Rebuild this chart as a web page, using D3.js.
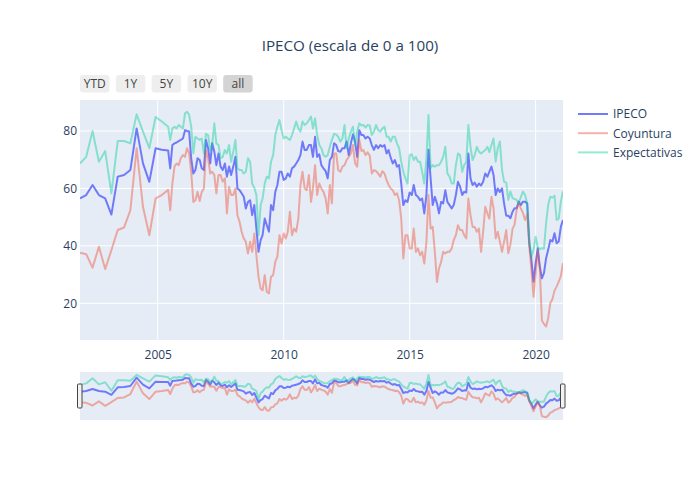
<!DOCTYPE html>
<html><head><meta charset="utf-8">
<script src="https://cdn.jsdelivr.net/npm/d3@7"></script>
<style>body{margin:0;background:#fff}text{font-family:"Open Sans",sans-serif}</style>
</head><body><svg id="c" width="700" height="500"></svg>
<script>
const quarterDates = ["2001-12","2002-03","2002-06","2002-09","2002-12","2003-03","2003-06","2003-09","2003-12","2004-03","2004-06","2004-09","2004-12","2005-03","2005-06"];
const monthDates = [
"2005-07","2005-08","2005-09","2005-10","2005-11","2005-12",
"2006-01","2006-02","2006-03","2006-04","2006-05","2006-06","2006-07","2006-08","2006-09","2006-10","2006-11","2006-12",
"2007-01","2007-02","2007-03","2007-04","2007-05","2007-06","2007-07","2007-08","2007-09","2007-10","2007-11","2007-12",
"2008-01","2008-02","2008-03","2008-04","2008-05","2008-06","2008-07","2008-08","2008-09","2008-10","2008-11","2008-12",
"2009-01","2009-02","2009-03","2009-04","2009-05","2009-06","2009-07","2009-08","2009-09","2009-10","2009-11","2009-12",
"2010-01","2010-02","2010-03","2010-04","2010-05","2010-06","2010-07","2010-08","2010-09","2010-10","2010-11","2010-12",
"2011-01","2011-02","2011-03","2011-04","2011-05","2011-06","2011-07","2011-08","2011-09","2011-10","2011-11","2011-12",
"2012-01","2012-02","2012-03","2012-04","2012-05","2012-06","2012-07","2012-08","2012-09","2012-10","2012-11","2012-12",
"2013-01","2013-02","2013-03","2013-04","2013-05","2013-06","2013-07","2013-08","2013-09","2013-10","2013-11","2013-12",
"2014-01","2014-02","2014-03","2014-04","2014-05","2014-06","2014-07","2014-08","2014-09","2014-10","2014-11","2014-12",
"2015-01","2015-02","2015-03","2015-04","2015-05","2015-06","2015-07","2015-08","2015-09","2015-10","2015-11","2015-12",
"2016-01","2016-02","2016-03","2016-04","2016-05","2016-06","2016-07","2016-08","2016-09","2016-10","2016-11","2016-12",
"2017-01","2017-02","2017-03","2017-04","2017-05","2017-06","2017-07","2017-08","2017-09","2017-10","2017-11","2017-12",
"2018-01","2018-02","2018-03","2018-04","2018-05","2018-06","2018-07","2018-08","2018-09","2018-10","2018-11","2018-12",
"2019-01","2019-02","2019-03","2019-04","2019-05","2019-06","2019-07","2019-08","2019-09","2019-10","2019-11","2019-12",
"2020-01","2020-02","2020-03","2020-04","2020-05","2020-06","2020-07","2020-08","2020-09","2020-10","2020-11","2020-12",
"2021-01","2021-02"];

const ipeco = [56.5,57.7,61.2,57.7,56.5,50.9,64.1,64.7,66.4,80.9,68.7,62.3,74,73.5,73.2,
67,75.1,75.7,76,76.5,76.9,77.4,80.3,80,79.8,70.5,65.2,66.4,70.5,69.9,67,66.4,76.9,74,68.7,75.7,72.8,68.1,72.2,
67.6,66.4,68.7,64.1,67.6,64.7,67.6,71,60,59.4,58.3,57.1,53,55.3,55.9,50.7,54.2,46,37.9,42,43.7,49.5,47.2,44.9,54.2,52.4,58.8,61.2,65.8,65.8,62.9,
63.5,65.2,64.1,67,67.6,68.7,69.9,71.6,76.3,73.4,73.4,75.1,75.1,71,78,71,71.9,68.1,67,66,63.5,69.9,71,75.7,75.1,73,72.8,74,74,76.3,71.6,75.7,78.8,76.3,
71,80.3,78.6,78.6,77.4,78,77.4,75.1,73.4,75.1,74,75.1,74.5,75.1,72.2,73.4,70.7,68.7,69.9,67.6,68.1,61.7,54.2,55.9,55.3,58.6,57.7,61.2,57.7,57.1,55.9,56.5,51.3,
57.7,73.5,63.5,54.2,57.1,54.8,51.3,55.3,54.8,59.4,55.3,54.2,53,54.2,57.7,62.3,60.6,57.7,58.8,58.6,72.2,63.5,61.2,62,60.6,61.7,61,62.3,65.2,64.1,65.8,67.6,64.7,57.7,60,58.8,
60,54.8,50.5,50.5,49.6,51.9,53.1,53.1,55.4,54.2,55.4,55.4,54.8,40.9,35.1,27.5,33.9,39.2,32.8,28.7,30.5,35.7,38.6,42,41.5,44.4,40.9,41.5,46.7,49];

const coyuntura = [37.6,37.1,32.4,39.7,31.9,38.5,45.5,46.4,52.4,74,53.6,43.7,56.5,57.7,59.5,
52.4,61.7,67.6,68.7,68.1,70.5,71.6,71,74,72.2,65.8,55.3,55.9,58.8,55.6,58.8,60,73.4,70.5,65.2,65.8,64.7,58.3,64.7,
64.7,62.3,63.5,51.3,60.6,57.7,57.7,60,50.7,48.4,44.9,42.6,41.4,37.3,41.4,37.9,44.3,36.7,29.2,25.1,24.5,29.8,24,23.4,29.2,29.8,34.4,36.2,43.7,40.8,44.3,
42.6,44.9,51.9,43.7,46,44.9,49.5,61.2,65.8,60,59.4,64.7,55.3,60,68.1,57.7,61.7,60,58.8,56.5,51.3,61.2,54.8,72.2,72.2,66.4,65.8,67.6,68.1,69.9,71,72.2,75.1,68.7,
67.6,76.9,73,73.4,71.6,72.6,71.4,65.2,66.4,66,65.2,64.1,66,65.2,62.9,61.2,60,59.4,57.7,58.3,55.9,49.5,35.6,43.7,43.7,39.1,39.1,46,37.9,39.1,36.7,37.9,33.8,
41.4,57.7,46,46.6,37.9,27.4,32.1,34.4,37.9,37.3,37.9,37.9,39.1,42,43.7,47.2,45.5,45.5,43.7,42.6,56.5,50.7,46.6,46.6,44.9,46,37.9,44.9,53.6,51.3,49.5,57.1,53,42.6,44.9,41.4,
37.9,41.4,45.5,37.4,40.5,46,47.3,52.5,55,53,51.5,49,51,40,31.6,22.3,30.5,38.2,32.8,14,12.8,11.9,14.8,20,21.5,24.4,25.8,27.5,29.5,34];

const expectativas = [68.7,71,80,69.3,73,58.3,76.5,76.5,75.7,85.8,79.8,74,84.9,83.3,81.5,
76.9,80.9,81.5,80.9,82.1,81.5,80.9,86.2,86.7,85.6,81.5,72.2,78,77.4,76.9,77.4,72.2,79,78.6,73.4,75.1,82.7,75.7,75.1,
70.5,71,73.4,72.2,75.1,69.3,72.8,76.9,67,66.4,66.4,65.2,65.8,70.5,69.3,61.7,60.2,57.7,43.7,54.2,56.5,61.7,64.1,63.5,69.3,71.6,78.6,81.5,83.8,80.3,77.4,
78,77.4,76.9,78.6,80.9,83.3,80.9,79.8,83.3,82.1,82.7,83.8,85,80.9,84.4,78.6,75.1,74,71.6,71,71.6,74.5,76.9,79,78.8,78,76.3,77.4,82.1,74,77.4,79.8,81.5,75.1,
79.8,82.7,81.9,82.1,81.2,82.1,81.9,78.6,79.8,82.1,80.3,79.8,80.9,81.5,78,78,76.3,78,78,75.7,74,69.3,65.8,63.5,61.7,71.6,71.9,69.9,71,69.3,69.3,65.8,61.7,
70.5,85.6,67,68.1,67.6,68.1,68.1,69.3,71,74.5,65.2,64.1,61.7,61.7,68.1,72.2,71.6,65.8,68.1,69.3,82.1,74.5,69.9,71.6,74.5,72.8,72.2,72.8,73.4,74.5,72.6,75.1,77.4,69.3,74,76.3,
66.4,62.3,62,56,58.9,56.6,56.3,56,54.8,57,58.9,57.7,54.8,42.6,36,38.6,43.2,39.5,38.8,39.2,39,48,54.2,57.1,56.8,57.5,49,49.5,55.5,59];

const seriesNames = ["IPECO","Coyuntura","Expectativas"];
const seriesColors = ["#636efa","#EF553B","#00cc96"];
const seriesOpacity = [0.9,0.45,0.42];
const xTickLabels = ["2005","2010","2015","2020"];
const yTickValues = [20,40,60,80];
const buttonLabels = ["YTD","1Y","5Y","10Y","all"];
const titleText = "IPECO (escala de 0 a 100)";

const parse = d3.timeParse("%Y-%m");
const dates = quarterDates.concat(monthDates).map(parse);
const seriesValues = [ipeco, coyuntura, expectativas];

const svg = d3.select("#c");
const L=80,R=563,T=100,B=340, sT=372, sB=420;
const txt = "#2a3f5f";

const x = d3.scaleTime().domain([new Date(2001,11,1), new Date(2021,1,1)]).range([L,R]);
const y = d3.scaleLinear().domain([7.2,90.8]).range([B,T]);
const ys = d3.scaleLinear().domain([7.2,90.8]).range([sB,sT]);

svg.append("rect").attr("x",L).attr("y",T).attr("width",R-L).attr("height",B-T).attr("fill","#e5ecf6");

// gridlines
svg.append("g").selectAll("line").data(yTickValues).join("line")
  .attr("x1",L).attr("x2",R).attr("y1",d=>y(d)).attr("y2",d=>y(d))
  .attr("stroke","#fff").attr("stroke-width",1);
const xTickDates = xTickLabels.map(s=>new Date(+s,0,1));
svg.append("g").selectAll("line").data(xTickDates).join("line")
  .attr("x1",d=>x(d)).attr("x2",d=>x(d)).attr("y1",T).attr("y2",B)
  .attr("stroke","#fff").attr("stroke-width",1);

// axes
const xAxis = d3.axisBottom(x).tickValues(xTickDates).tickFormat(d3.timeFormat("%Y")).tickSize(0).tickPadding(10);
const gx = svg.append("g").attr("transform",`translate(0,${B})`).call(xAxis);
gx.select(".domain").remove();
gx.selectAll("text").attr("fill",txt).style("font-size","12px").style("font-family","'Open Sans'");
const yAxis = d3.axisLeft(y).tickValues(yTickValues).tickSize(0).tickPadding(3);
const gy = svg.append("g").attr("transform",`translate(${L},0)`).call(yAxis);
gy.select(".domain").remove();
gy.selectAll("text").attr("fill",txt).style("font-size","12px").style("font-family","'Open Sans'");

// clip
const defs = svg.append("defs");
defs.append("clipPath").attr("id","clipMain").append("rect").attr("x",L).attr("y",T).attr("width",R-L).attr("height",B-T);
defs.append("clipPath").attr("id","clipSl").append("rect").attr("x",L).attr("y",sT).attr("width",R-L).attr("height",sB-sT);

const lineMain = d3.line().x(d=>x(d[0])).y(d=>y(d[1]));
const lineSl = d3.line().x(d=>x(d[0])).y(d=>ys(d[1]));

const gLines = svg.append("g").attr("clip-path","url(#clipMain)");
seriesValues.forEach((vals,i)=>{
  const pts = vals.map((v,j)=>[dates[j],v]);
  gLines.append("path").attr("d",lineMain(pts)).attr("fill","none")
    .attr("stroke",seriesColors[i]).attr("stroke-width",2).attr("stroke-opacity",seriesOpacity[i])
    .attr("stroke-linejoin","round");
});

// range slider
svg.append("rect").attr("x",L).attr("y",sT).attr("width",R-L).attr("height",sB-sT).attr("fill","#e5ecf6");
const gSl = svg.append("g").attr("clip-path","url(#clipSl)");
seriesValues.forEach((vals,i)=>{
  const pts = vals.map((v,j)=>[dates[j],v]);
  gSl.append("path").attr("d",lineSl(pts)).attr("fill","none")
    .attr("stroke",seriesColors[i]).attr("stroke-width",2).attr("stroke-opacity",seriesOpacity[i])
    .attr("stroke-linejoin","round");
});
[L,R].forEach(hx=>{
  svg.append("rect").attr("x",hx-2.5).attr("y",384).attr("width",4.5).attr("height",24)
    .attr("fill","#f2f2f2").attr("stroke","#444").attr("stroke-width",1).attr("rx",1);
});

// title
svg.append("text").attr("x",350).attr("y",50.5).attr("text-anchor","middle")
  .attr("fill",txt).style("font-size","15.2px").text(titleText);

// buttons
const gb = svg.append("g");
buttonLabels.forEach((b,i)=>{
  const bx = 80 + i*35.8;
  gb.append("rect").attr("x",bx).attr("y",75).attr("width",29.5).attr("height",17.5).attr("rx",3)
    .attr("fill", b==="all" ? "#d4d4d4" : "#eeeeee");
  gb.append("text").attr("x",bx+14.75).attr("y",88).attr("text-anchor","middle")
    .attr("fill","#444").style("font-size","12px").text(b);
});

// legend
const gl = svg.append("g");
seriesNames.forEach((n,i)=>{
  const ly = 114 + i*19.2;
  gl.append("line").attr("x1",578).attr("x2",608).attr("y1",ly).attr("y2",ly)
    .attr("stroke",seriesColors[i]).attr("stroke-width",2).attr("stroke-opacity",seriesOpacity[i]);
  gl.append("text").attr("x",613).attr("y",ly+4.3).attr("fill",txt).style("font-size","12px").text(n);
});
</script></body></html>
